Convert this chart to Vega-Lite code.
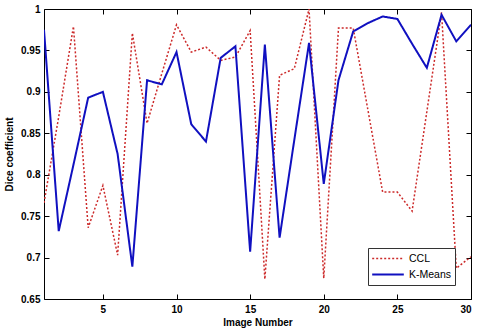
{
  "$schema": "https://vega.github.io/schema/vega-lite/v6.json",
  "width": 427,
  "height": 290,
  "autosize": "none",
  "padding": {"left": 44, "top": 9, "right": 9, "bottom": 33},
  "background": "white",
  "config": {
    "view": {"stroke": "black", "strokeWidth": 1},
    "font": "Liberation Sans",
    "axis": {"grid": false, "domain": false, "tickColor": "black", "tickSize": -5, "labelColor": "black", "labelFont": "Liberation Sans", "labelFontWeight": "bold", "labelFontSize": 10, "titleFont": "Liberation Sans", "titleFontWeight": "bold", "titleFontSize": 10, "titleColor": "black", "format": "~g"}
  },
  "resolve": {"axis": {"x": "independent", "y": "independent"}},
  "data": {"values": [
    {"x":1,"s":"CCL","v":0.766},{"x":2,"s":"CCL","v":0.87},{"x":3,"s":"CCL","v":0.979},{"x":4,"s":"CCL","v":0.736},{"x":5,"s":"CCL","v":0.787},{"x":6,"s":"CCL","v":0.703},{"x":7,"s":"CCL","v":0.971},{"x":8,"s":"CCL","v":0.862},{"x":9,"s":"CCL","v":0.922},{"x":10,"s":"CCL","v":0.981},
    {"x":11,"s":"CCL","v":0.948},{"x":12,"s":"CCL","v":0.954},{"x":13,"s":"CCL","v":0.938},{"x":14,"s":"CCL","v":0.942},{"x":15,"s":"CCL","v":0.974},{"x":16,"s":"CCL","v":0.674},{"x":17,"s":"CCL","v":0.92},{"x":18,"s":"CCL","v":0.928},{"x":19,"s":"CCL","v":1.0},{"x":20,"s":"CCL","v":0.675},
    {"x":21,"s":"CCL","v":0.977},{"x":22,"s":"CCL","v":0.977},{"x":23,"s":"CCL","v":0.878},{"x":24,"s":"CCL","v":0.779},{"x":25,"s":"CCL","v":0.779},{"x":26,"s":"CCL","v":0.756},{"x":27,"s":"CCL","v":0.876},{"x":28,"s":"CCL","v":0.996},{"x":29,"s":"CCL","v":0.687},{"x":30,"s":"CCL","v":0.701},
    {"x":1,"s":"K-Means","v":0.975},{"x":2,"s":"K-Means","v":0.732},{"x":3,"s":"K-Means","v":0.812},{"x":4,"s":"K-Means","v":0.893},{"x":5,"s":"K-Means","v":0.9},{"x":6,"s":"K-Means","v":0.825},{"x":7,"s":"K-Means","v":0.689},{"x":8,"s":"K-Means","v":0.914},{"x":9,"s":"K-Means","v":0.909},{"x":10,"s":"K-Means","v":0.948},
    {"x":11,"s":"K-Means","v":0.861},{"x":12,"s":"K-Means","v":0.84},{"x":13,"s":"K-Means","v":0.941},{"x":14,"s":"K-Means","v":0.955},{"x":15,"s":"K-Means","v":0.707},{"x":16,"s":"K-Means","v":0.957},{"x":17,"s":"K-Means","v":0.724},{"x":18,"s":"K-Means","v":0.842},{"x":19,"s":"K-Means","v":0.959},{"x":20,"s":"K-Means","v":0.789},
    {"x":21,"s":"K-Means","v":0.914},{"x":22,"s":"K-Means","v":0.973},{"x":23,"s":"K-Means","v":0.983},{"x":24,"s":"K-Means","v":0.991},{"x":25,"s":"K-Means","v":0.988},{"x":26,"s":"K-Means","v":0.958},{"x":27,"s":"K-Means","v":0.929},{"x":28,"s":"K-Means","v":0.993},{"x":29,"s":"K-Means","v":0.961},{"x":30,"s":"K-Means","v":0.981}
  ]},
  "layer": [
    {
      "mark": {"type": "line", "clip": true},
      "encoding": {
        "x": {"field": "x", "type": "quantitative", "scale": {"domain": [1, 30], "nice": false, "zero": false}, "axis": {"orient": "bottom", "values": [5,10,15,20,25,30], "title": "Image Number", "labelPadding": 10, "titlePadding": 3}},
        "y": {"field": "v", "type": "quantitative", "scale": {"domain": [0.65, 1], "nice": false, "zero": false}, "axis": {"orient": "left", "values": [0.65,0.7,0.75,0.8,0.85,0.9,0.95,1], "title": "Dice coefficient", "labelPadding": 9, "titlePadding": 6}},
        "color": {"field": "s", "type": "nominal", "scale": {"domain": ["CCL","K-Means"], "range": ["#cc2a2a","#1010c0"]}, "legend": {"title": null, "orient": "none", "legendX": 324, "legendY": 239, "fillColor": "white", "strokeColor": "#333333", "padding": 3, "symbolType": "stroke", "symbolSize": 1000, "clipHeight": 15, "labelFontSize": 10.5, "labelFont": "Liberation Sans", "labelColor": "black", "labelOffset": 4, "rowPadding": 1}},
        "strokeDash": {"field": "s", "type": "nominal", "scale": {"domain": ["CCL","K-Means"], "range": [[2,2],[1,0]]}, "legend": {"title": null, "orient": "none", "legendX": 324, "legendY": 239}},
        "strokeWidth": {"field": "s", "type": "nominal", "scale": {"domain": ["CCL","K-Means"], "range": [1.5, 2]}, "legend": {"title": null, "orient": "none", "legendX": 324, "legendY": 239}}
      }
    },
    {
      "mark": {"type": "rule", "opacity": 0},
      "encoding": {
        "x": {"field": "x", "type": "quantitative", "aggregate": "min", "axis": {"orient": "top", "values": [5,10,15,20,25,30], "labels": false, "title": null}},
        "y": {"field": "v", "type": "quantitative", "aggregate": "min", "axis": {"orient": "right", "values": [0.65,0.7,0.75,0.8,0.85,0.9,0.95,1], "labels": false, "title": null}}
      }
    }
  ]
}
